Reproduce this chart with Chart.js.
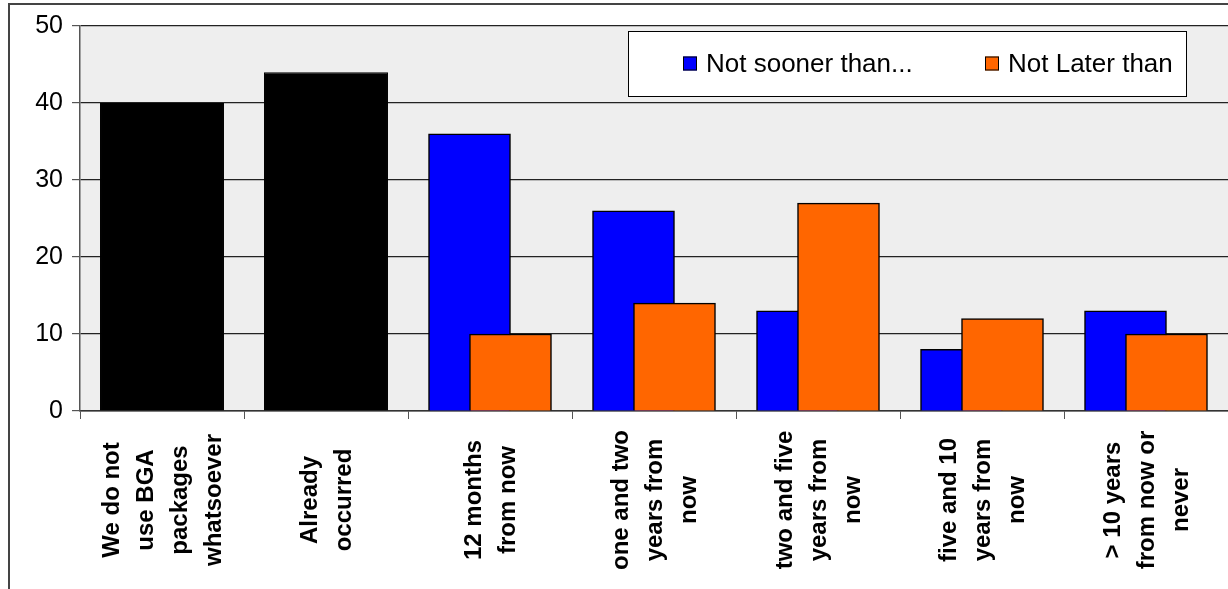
<!DOCTYPE html>
<html>
<head>
<meta charset="utf-8">
<script src="https://cdn.jsdelivr.net/npm/chart.js@4.4.1/dist/chart.umd.min.js"></script>
<style>
	html, body { margin: 0; padding: 0; background: #fff; }
	#wrap { width: 1228px; height: 589px; }
</style>
</head>
<body>
<div id="wrap"><canvas id="bgaChart" width="1228" height="589"></canvas></div>
<script>
// category labels, one entry per line of the rotated label
const categories = [
	['We do not', 'use BGA', 'packages', 'whatsoever'],
	['Already', 'occurred'],
	['12 months', 'from now'],
	['one and two', 'years from', 'now'],
	['two and five', 'years from', 'now'],
	['five and 10', 'years from', 'now'],
	['> 10 years', 'from now or', 'never']
];
const notSooner = [null, null, 36, 26, 13, 8, 13];
const notLater = [null, null, 10, 14, 27, 12, 10];
const noTiming = [40, 44, null, null, null, null, null];
const seriesNames = ['Not sooner than...', 'Not Later than'];
const yMin = 0;
const yMax = 50;
const yStep = 10;

const FONT = '"Liberation Sans", Arial, sans-serif';

// frame round the whole chart + light gray plot background
const backdrop = {
	id: 'backdrop',
	beforeDraw(chart) {
		const ctx = chart.ctx;
		const a = chart.chartArea;
		ctx.save();
		ctx.fillStyle = '#ffffff';
		ctx.fillRect(0, 0, chart.width, chart.height);
		ctx.fillStyle = '#eeeeee';
		ctx.fillRect(a.left, a.top, a.right - a.left, a.bottom - a.top);
		ctx.strokeStyle = '#444';
		ctx.lineWidth = 2;
		ctx.strokeRect(9, 4, chart.width + 20, chart.height + 20);
		ctx.restore();
	}
};

// blue goes in the left slot but orange has to be painted over it
const drawOrder = {
	id: 'drawOrder',
	beforeDatasetsDraw(chart) {
		const ctx = chart.ctx;
		const a = chart.chartArea;
		ctx.save();
		ctx.beginPath();
		ctx.rect(a.left, a.top, a.right - a.left, a.bottom - a.top);
		ctx.clip();
		chart.getSortedVisibleDatasetMetas().forEach((meta) => {
			meta.controller.draw();
		});
		ctx.restore();
		return false;
	}
};

// rotated category labels, lines centred on each other
const catLabels = {
	id: 'catLabels',
	afterDraw(chart) {
		const ctx = chart.ctx;
		const xs = chart.scales.x;
		const pitch = 34;
		const midY = 500;
		ctx.save();
		ctx.fillStyle = '#000';
		ctx.font = 'bold 24px ' + FONT;
		ctx.textAlign = 'center';
		ctx.textBaseline = 'middle';
		categories.forEach((lines, i) => {
			const cx = xs.getPixelForTick(i);
			lines.forEach((line, j) => {
				const off = (j - (lines.length - 1) / 2) * pitch;
				ctx.save();
				ctx.translate(cx + off, midY);
				ctx.rotate(-Math.PI / 2);
				ctx.fillText(line, 0, 1);
				ctx.restore();
			});
		});
		ctx.restore();
	}
};

// boxed legend sitting inside the plot, top right
const boxLegend = {
	id: 'boxLegend',
	afterDraw(chart) {
		const ctx = chart.ctx;
		const box = {left: 628, top: 31, right: 1186, bottom: 96};
		const items = [
			{text: seriesNames[0], color: chart.data.datasets[0].backgroundColor, x: 683},
			{text: seriesNames[1], color: chart.data.datasets[1].backgroundColor, x: 985}
		];
		const midY = (box.top + box.bottom) / 2;
		ctx.save();
		ctx.fillStyle = '#fff';
		ctx.fillRect(box.left, box.top, box.right - box.left, box.bottom - box.top);
		ctx.strokeStyle = '#000';
		ctx.lineWidth = 1;
		ctx.strokeRect(box.left + 0.5, box.top + 0.5, box.right - box.left, box.bottom - box.top);
		ctx.font = '26px ' + FONT;
		ctx.textBaseline = 'middle';
		items.forEach((it) => {
			ctx.fillStyle = it.color;
			ctx.fillRect(it.x, midY - 7, 14, 14);
			ctx.strokeStyle = '#000';
			ctx.strokeRect(it.x + 0.5, midY - 6.5, 13, 13);
			ctx.fillStyle = '#000';
			ctx.fillText(it.text, it.x + 23, midY + 1);
		});
		ctx.restore();
	}
};

const ctx = document.getElementById('bgaChart');
const chart = new Chart(ctx, {
	type: 'bar',
	data: {
		labels: categories,
		datasets: [
			{
				label: seriesNames[0],
				data: notSooner,
				backgroundColor: '#0000ff',
				borderColor: '#000',
				borderWidth: 1.5,
				categoryPercentage: 0.5,
				barPercentage: 2
			},
			{
				label: seriesNames[1],
				data: notLater,
				backgroundColor: '#ff6600',
				borderColor: '#000',
				borderWidth: 1.5,
				categoryPercentage: 0.5,
				barPercentage: 2
			},
			{
				label: 'n/a',
				data: noTiming,
				backgroundColor: '#000000',
				borderColor: '#000',
				borderWidth: 1,
				categoryPercentage: 0.5,
				barPercentage: 1.512
			}
		]
	},
	options: {
		responsive: false,
		animation: false,
		devicePixelRatio: 1,
		skipNull: true,
		layout: {padding: {top: 26, right: 0, left: 0, bottom: 0}},
		plugins: {
			legend: {display: false},
			tooltip: {enabled: false}
		},
		scales: {
			x: {
				offset: true,
				ticks: {display: false},
				grid: {
					offset: true,
					drawOnChartArea: false,
					drawTicks: true,
					tickLength: 8,
					color: '#555'
				},
				border: {display: true, color: '#333', width: 1.5},
				afterFit(scale) {
					scale.height = 178;
				}
			},
			y: {
				min: yMin,
				max: yMax,
				ticks: {
					stepSize: yStep,
					color: '#000',
					padding: 9,
					font: {family: FONT, size: 25}
				},
				grid: {
					color: '#222',
					lineWidth: 1.2,
					tickLength: 8,
					tickColor: '#555'
				},
				border: {display: true, color: '#555', width: 1.5},
				afterFit(scale) {
					scale.width = 80;
				}
			}
		}
	},
	plugins: [backdrop, drawOrder, catLabels, boxLegend]
});
</script>
</body>
</html>
